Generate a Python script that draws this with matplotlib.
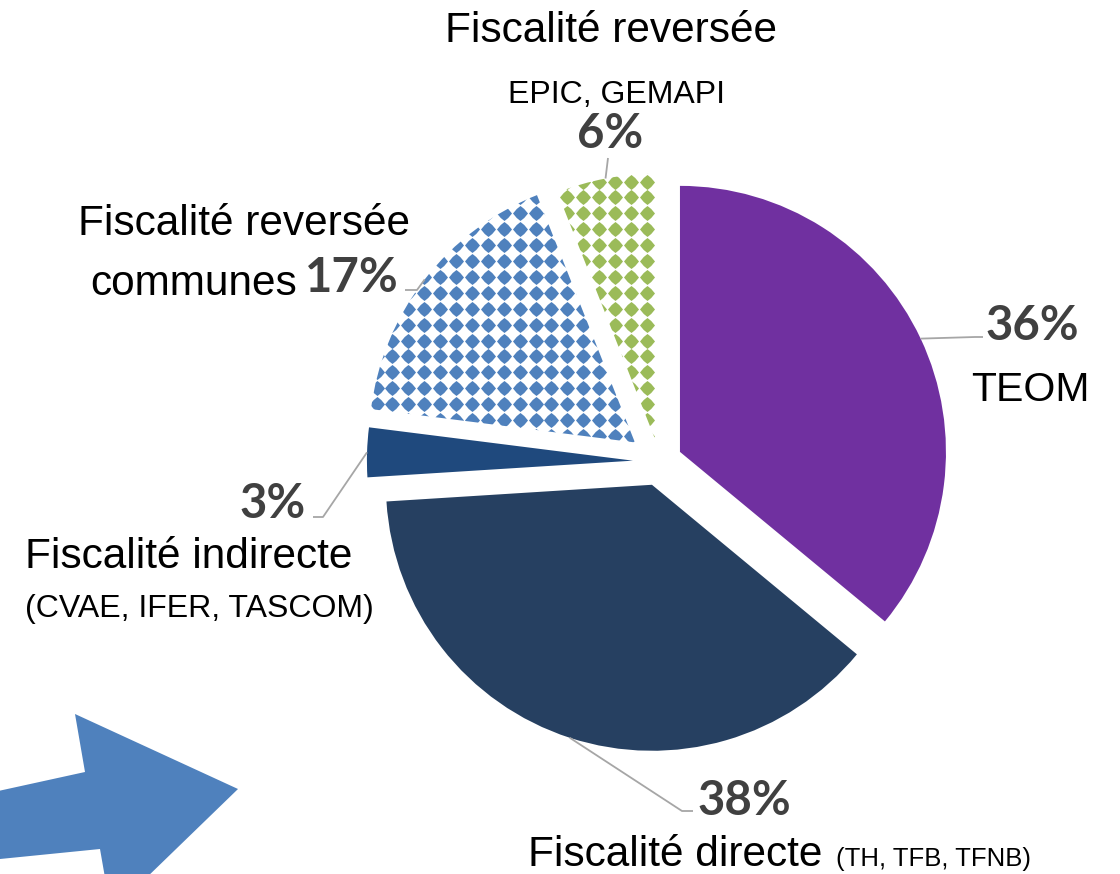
import matplotlib.pyplot as plt
from matplotlib.path import Path
import numpy as np

# data (share of the fiscal resources, %)
shares = [36, 38, 3, 17, 6]
pct_labels = ["36%", "38%", "3%", "17%", "6%"]
explode = [0.085, 0.092, 0.10, 0.117, 0.083]   # fraction of radius
fill_colors = ["#7030A0", "#264061", "#1F497D", "white", "white"]
dot_colors = [None, None, None, "#4F81BD", "#9BBB59"]

W, H = 1120, 874
R = 266


def py(y):
    # pixel row (top origin) -> data y
    return H - y


fig = plt.figure(figsize=(W / 100, H / 100), dpi=100)
ax = fig.add_axes([0, 0, 1, 1])

wedges, _ = ax.pie(shares, explode=[e * R for e in explode], colors=fill_colors,
                   startangle=90, counterclock=False, center=(659.5, py(461.5)),
                   radius=R, frame=True, wedgeprops=dict(linewidth=0))
ax.set_xlim(0, W)
ax.set_ylim(0, H)
ax.set_aspect('equal')
ax.axis('off')

# dotted pattern fill for the two "reversée" slices
diamond = Path([(0, 1), (0.5, 0.6), (1, 0), (0.5, -0.6), (0, -1),
                (-0.5, -0.6), (-1, 0), (-0.5, 0.6), (0, 1)], closed=True)
gx, gy = np.meshgrid(np.arange(10.8, W, 15.9), np.arange(6.6, H, 15.9))
for w, c in zip(wedges, dot_colors):
    if c is None:
        continue
    ln, = ax.plot(gx.ravel(), py(gy.ravel()), ls='none', marker=diamond,
                  ms=10.8, color=c, mew=0)
    ln.set_clip_path(w)

# leader lines: start on the arc at mid angle, then elbow, then end
elbows = [[(975, 337), (983, 337)],
          [(682, 811), (693, 811)],
          [(323, 517), (313, 517)],
          [(417, 290), (405, 290)],
          [(608, 158)]]
for w, pts in zip(wedges, elbows):
    a = np.deg2rad((w.theta1 + w.theta2) / 2)
    x0 = w.center[0] + w.r * np.cos(a)
    y0 = w.center[1] + w.r * np.sin(a)
    xs = [x0] + [p[0] for p in pts]
    ys = [y0] + [py(p[1]) for p in pts]
    ax.plot(xs, ys, color="#A6A6A6", lw=1.3, solid_capstyle='butt')

# percentages
pct_style = dict(family="Lato", fontweight="bold", fontsize=34, color="#404040",
                 va="baseline")
pct_pos = [(985, 340, "left"), (697, 815, "left"), (306, 518, "right"),
           (399, 292, "right"), (610, 148, "center")]
for t, (x, y, ha) in zip(pct_labels, pct_pos):
    ax.text(x, py(y), t, ha=ha, **pct_style)

# category labels
big = dict(family="Liberation Sans", fontsize=30.5, color="black", va="baseline")
small = dict(family="Liberation Sans", fontsize=23, color="black", va="baseline")
ax.text(1030, py(401), "TEOM", ha="center", **dict(big, fontsize=29.5))
ax.text(528, py(866), "Fiscalité directe", ha="left", **big)
ax.text(1031, py(866), "(TH, TFB, TFNB)", ha="right",
        **dict(small, fontsize=18.5))
ax.text(25, py(568), "Fiscalité indirecte", ha="left", **big)
ax.text(25, py(617), "(CVAE, IFER, TASCOM)", ha="left", **small)
ax.text(244, py(235), "Fiscalité reversée", ha="center", **big)
ax.text(297, py(295), "communes", ha="right", **big)
ax.text(611, py(42), "Fiscalité reversée", ha="center", **big)
ax.text(617, py(103), "EPIC, GEMAPI", ha="center", **small)

# decorative arrow bottom left
arrow = plt.Polygon([(-20, py(795)), (85, py(772)), (75, py(714)), (238, py(789)),
                     (111, py(912)), (100, py(849)), (-20, py(861))],
                    closed=True, facecolor="#4F81BD", edgecolor="none")
ax.add_patch(arrow)

fig.savefig("out.png", dpi=100)
